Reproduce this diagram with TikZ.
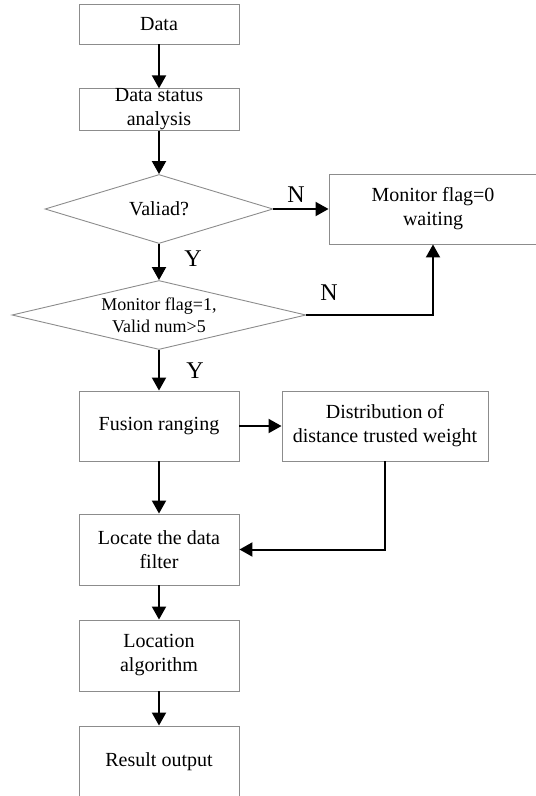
\documentclass[tikz,border=0pt]{standalone}
\usepackage{fontspec}
\setmainfont{Liberation Serif}
\usepackage{tikz}
\usetikzlibrary{arrows.meta,shapes,positioning}

\tikzset{
  procbox/.style={draw=black!45, line width=0.9pt, inner sep=0pt, align=center,
    font=\fontsize{20}{24}\selectfont},
  testbox/.style={diamond, draw=black!45, line width=0.9pt, inner sep=-6pt, aspect=4.25, align=center},
  yesno/.style={font=\fontsize{24}{28}\selectfont},
  flowline/.style={line width=2pt, -{Triangle[length=13pt,width=14pt]}}
}

\begin{document}
\begin{tikzpicture}[x=1pt,y=-1pt]
    \useasboundingbox (0,0) rectangle (536,796);
    %the main column
    \node[procbox, minimum width=160pt, minimum height=40pt] (data) at (159,24) {Data};
    \node[procbox, minimum width=160pt, minimum height=41pt] (status) at (159,109.5) {Data status\\analysis};
    \node[testbox, minimum width=228pt, minimum height=69pt, font=\fontsize{20}{24}\selectfont] (valid) at (159,209) {Valiad?};
    \node[testbox, minimum width=294pt, minimum height=69pt, font=\fontsize{18}{22}\selectfont] (flag) at (159,315) {Monitor flag=1,\\Valid num>5};
    \node[procbox, minimum width=160pt, minimum height=70pt] (fusion) at (159,426) {Fusion ranging};
    \node[procbox, minimum width=160pt, minimum height=71pt] (filter) at (159,549.5) {Locate the data\\filter};
    \node[procbox, minimum width=160pt, minimum height=71pt] (algo) at (159,655.5) {Location\\algorithm};
    \node[procbox, minimum width=160pt, minimum height=72pt] (result) at (159,762) {Result output};

    %the side boxes
    \node[procbox, minimum width=208pt, minimum height=70pt] (wait) at (433,209) {Monitor flag=0\\waiting};
    \node[procbox, minimum width=206pt, minimum height=70pt] (weight) at (385,426) {Distribution of\\distance trusted weight};

    %the arrows
    \begin{scope}[every path/.style={flowline}]
       \draw (data) -- (status);
       \draw (status) -- (valid.north);
       \draw (valid.east) -- (wait.west);
       \draw (valid.south) -- (flag.north);
       \draw (flag.east) -| (wait.south);
       \draw (flag.south) -- (fusion.north);
       \draw (fusion) -- (weight);
       \draw (fusion) -- (filter);
       \draw (weight.south) |- (filter.east);
       \draw (filter) -- (algo);
       \draw (algo) -- (result);
    \end{scope}

    %yes and no
    \node[yesno] (n1) at (296,195) {N};
    \node[yesno] (y1) at (193,259) {Y};
    \node[yesno] (n2) at (329,293) {N};
    \node[yesno] (y2) at (195,371) {Y};
\end{tikzpicture}
\end{document}
